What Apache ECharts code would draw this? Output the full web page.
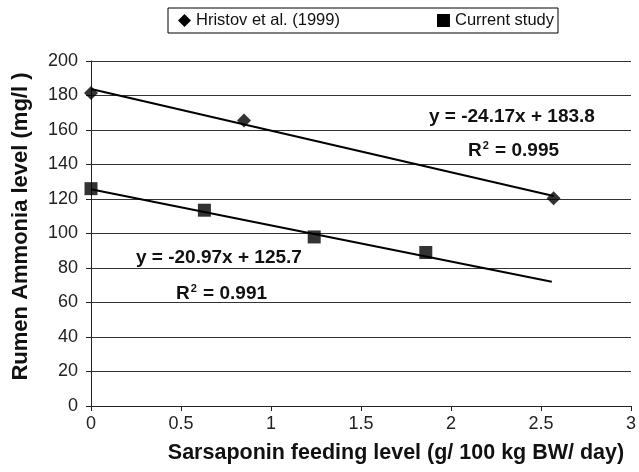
<!DOCTYPE html>
<html>
<head>
<meta charset="utf-8">
<script src="https://cdn.jsdelivr.net/npm/echarts@6/dist/echarts.min.js"></script>
<style>
  html, body { margin: 0; padding: 0; background: #fff; }
  #chart { width: 639px; height: 472px; }
</style>
</head>
<body>
<div id="chart"></div>
<script>
// values
var hristovPts = [[0, 181.5], [0.85, 165.5], [2.57, 120.5]];
var currentPts = [[0, 126], [0.63, 113.5], [1.24, 98], [1.86, 89]];
// trend line end points
var hristovTrend = [[0, 183.8], [2.57, 121.7]];
var currentTrend = [[0, 125.7], [2.56, 72]];
var hristovEq = ['y = -24.17x + 183.8', '0.995'];
var currentEq = ['y = -20.97x + 125.7', '0.991'];

var font = 'Liberation Sans, Arial, sans-serif';
var chart = echarts.init(document.getElementById('chart'));

function eqText(left, top, txt) {
    return {
        type: 'text', left: left, top: top,
        style: { text: txt, font: 'bold 19px ' + font, fill: '#111' }
    };
}
function r2Text(left, top, val) {
    return {
        type: 'text', left: left, top: top,
        style: {
            text: '{b|R}{s|2}{b| = ' + val + '}',
            rich: {
                b: { font: 'bold 19px ' + font, fill: '#111', verticalAlign: 'bottom' },
                s: { font: 'bold 11px ' + font, fill: '#111', verticalAlign: 'top', padding: [0, 1, 9, 1] }
            }
        }
    };
}

chart.setOption({
    animation: false,
    textStyle: { fontFamily: font },
    grid: { left: 91, right: 8, top: 61, bottom: 66 },
    legend: {
        left: 168, top: 8,
        padding: [4, 4, 4, 10],
        borderColor: '#000', borderWidth: 1,
        itemGap: 97, itemWidth: 13, itemHeight: 13,
        textStyle: { fontSize: 16.5, color: '#111', fontFamily: font },
        data: [
            { name: 'Hristov et al. (1999)', icon: 'diamond' },
            { name: 'Current study', icon: 'rect' }
        ]
    },
    xAxis: {
        type: 'value', min: 0, max: 3, interval: 0.5,
        name: 'Sarsaponin feeding level (g/ 100 kg BW/ day)',
        nameLocation: 'middle', nameGap: 36,
        nameTextStyle: { fontSize: 21.5, fontWeight: 'bold', color: '#111', padding: [0, 0, 0, 70] },
        axisLine: { lineStyle: { color: '#222', width: 1 } },
        axisTick: { show: true, length: 5, lineStyle: { color: '#222' } },
        axisLabel: { fontSize: 18, color: '#222', margin: 9 },
        splitLine: { show: false }
    },
    yAxis: {
        type: 'value', min: 0, max: 200, interval: 20,
        name: 'Rumen Ammonia level (mg/l )',
        nameLocation: 'middle', nameGap: 59, nameRotate: 90,
        nameTextStyle: { fontSize: 22, fontWeight: 'bold', color: '#111', padding: [0, 0, 0, 14] },
        axisLine: { show: true, lineStyle: { color: '#222', width: 1 } },
        axisTick: { show: true, length: 5, lineStyle: { color: '#222' } },
        axisLabel: { fontSize: 18, color: '#222', margin: 13 },
        splitLine: { lineStyle: { color: '#333', width: 1 } }
    },
    series: [
        {
            name: 'Hristov et al. (1999)', type: 'line', data: hristovTrend,
            symbol: 'none', lineStyle: { color: '#000', width: 2 }, itemStyle: { color: '#000' }, z: 3
        },
        {
            name: 'Current study', type: 'line', data: currentTrend,
            symbol: 'none', lineStyle: { color: '#000', width: 2 }, itemStyle: { color: '#000' }, z: 3
        },
        {
            name: 'Hristov et al. (1999)', type: 'scatter', data: hristovPts,
            symbol: 'diamond', symbolSize: 14, itemStyle: { color: '#000' }, z: 4
        },
        {
            name: 'Current study', type: 'scatter', data: currentPts,
            symbol: 'rect', symbolSize: 13, itemStyle: { color: '#000' }, z: 4
        }
    ],
    graphic: [
        eqText(429, 107, hristovEq[0]),
        r2Text(468, 140, hristovEq[1]),
        eqText(136, 248, currentEq[0]),
        r2Text(176, 283, currentEq[1])
    ]
});
</script>
</body>
</html>
